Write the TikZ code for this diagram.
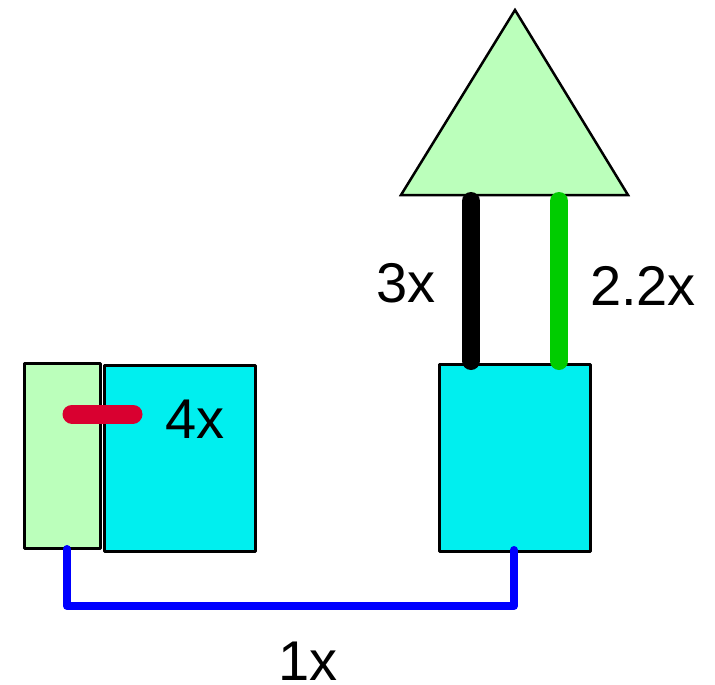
\documentclass[tikz,border=0pt]{standalone}
\usepackage{fontspec}
\setmainfont{Liberation Sans}
\definecolor{lgreen}{HTML}{BBFFBB}
\definecolor{cyanf}{HTML}{00EFEF}
\definecolor{redl}{HTML}{D90030}
\definecolor{greenl}{HTML}{00CC00}
\definecolor{bluel}{HTML}{0000FF}
\begin{document}
\begin{tikzpicture}[x=1pt,y=-1pt,
  box/.style={draw=black,line width=3pt,rectangle,inner sep=0pt,line join=round},
  link/.style={line cap=round,line join=round},
  lbl/.style={inner sep=0pt,anchor=center,font=\fontsize{56}{60}\selectfont}]
\useasboundingbox (0,0) rectangle (715,685);
% shapes
\node[box,fill=lgreen,minimum width=76pt,minimum height=185pt] (lg) at (62,455.5) {};
\node[box,fill=cyanf,minimum width=151pt,minimum height=186pt] (lc) at (179.5,458) {};
\node[box,fill=cyanf,minimum width=151pt,minimum height=187pt] (rc) at (514.5,457.5) {};
\coordinate (tA) at (515,10);
\coordinate (tL) at (401,195);
\coordinate (tR) at (628,195);
\draw[fill=lgreen,line width=2.5pt,line join=miter] (tA) -- (tR) -- (tL) -- cycle;
% connector end points
\coordinate (k1) at (471,201);
\coordinate (k2) at (471,361);
\coordinate (g1) at (559,201);
\coordinate (g2) at (559,361);
\coordinate (r1) at (72,414);
\coordinate (r2) at (133,414);
\coordinate (b1) at (67,549);
\coordinate (b2) at (67,606);
\coordinate (b3) at (514,606);
\coordinate (b4) at (514,550);
% connectors
\draw[link,line width=18pt,black] (k1) -- (k2);
\draw[link,line width=18pt,greenl] (g1) -- (g2);
\draw[link,line width=19pt,redl] (r1) -- (r2);
\draw[link,line width=8pt,bluel] (b1) -- (b2) -- (b3) -- (b4);
% labels
\node[lbl] (l3) at (406,283) {3x};
\node[lbl] (l22) at (643,286) {2.2x};
\node[lbl] (l4) at (195,419) {4x};
\node[lbl] (l1) at (308,661) {1x};
\end{tikzpicture}
\end{document}
